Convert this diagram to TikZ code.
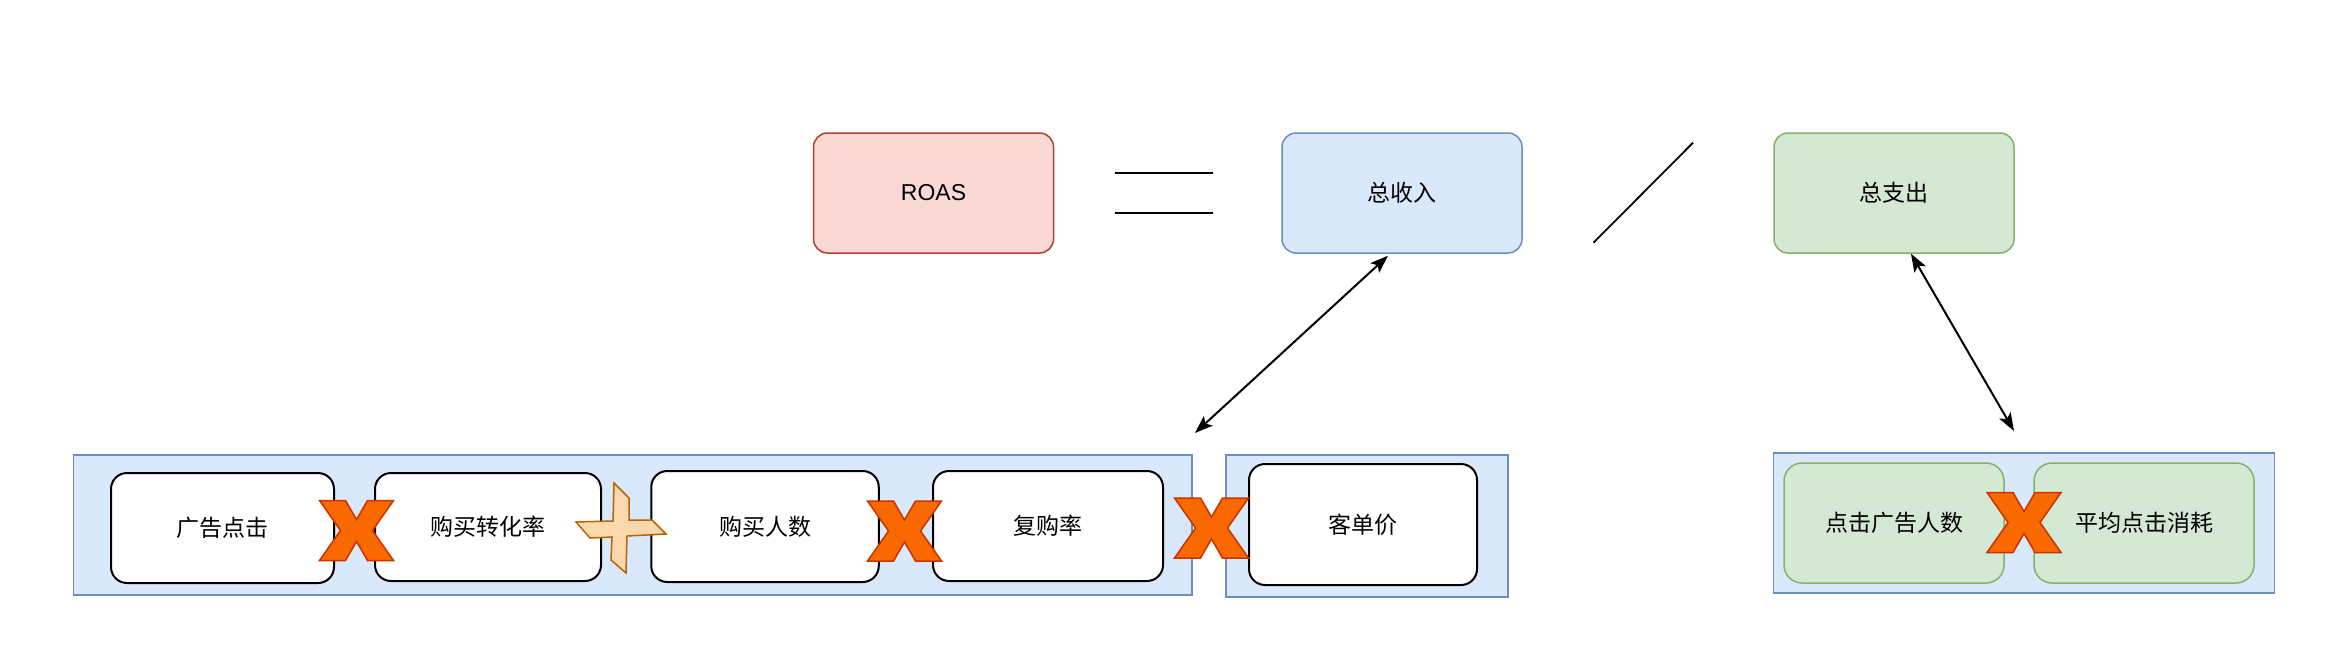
\documentclass[tikz,border=0pt]{standalone}
\usepackage{fontspec}
\setmainfont{Liberation Sans}
\newfontfamily\cjk{Noto Sans CJK SC}
\usetikzlibrary{arrows.meta,calc}
\definecolor{redfill}{HTML}{FAD9D5}
\definecolor{redline}{HTML}{AE4132}
\definecolor{bluefill}{HTML}{DAE8FC}
\definecolor{blueline}{HTML}{6C8EBF}
\definecolor{greenfill}{HTML}{D5E8D4}
\definecolor{greenline}{HTML}{82B366}
\definecolor{xfill}{HTML}{FA6800}
\definecolor{xline}{HTML}{C73500}
\definecolor{pfill}{HTML}{FAD7AC}
\definecolor{pline}{HTML}{B46504}
\tikzset{
  txt/.style={font=\fontsize{23}{28}\selectfont, text=black},
  topbox/.style={txt, rounded corners=14pt, line width=1.5pt, minimum width=240pt, minimum height=120pt, inner sep=0pt},
  container/.style={fill=bluefill, draw=blueline, line width=1.5pt, inner sep=0pt},
  blackbox/.style={txt, rounded corners=16pt, draw=black, fill=white, line width=2pt, inner sep=0pt},
  greenbox/.style={txt, rounded corners=18pt, draw=greenline, fill=greenfill, line width=1.5pt, inner sep=0pt},
  eqline/.style={draw=black, line width=2pt},
  dbl/.style={draw=black, line width=2pt, {Stealth[length=18pt,width=13pt,inset=4pt]}-{Stealth[length=18pt,width=13pt,inset=4pt]}},
  xstyle/.style={fill=xfill, draw=xline, line width=1.5pt, line join=miter},
  xmark/.pic={
    \path[xstyle] (-37,-30) -- (-11,-30) -- (0,-11) -- (11,-30) -- (37,-30) -- (16,0) -- (37,30) -- (11,30) -- (0,11) -- (-11,30) -- (-37,30) -- (-16,0) -- cycle;
  }
}
\begin{document}
\begin{tikzpicture}[x=1pt,y=-1pt]
\useasboundingbox (0,0) rectangle (2349,665);
\fill[white] (0,0) rectangle (2349,665);

% top row
\node[topbox, fill=redfill, draw=redline] (roas) at (933.5,193) {ROAS};
\node[topbox, fill=bluefill, draw=blueline] (income) at (1402,193) {\cjk 总收入};
\node[topbox, fill=greenfill, draw=greenline] (cost) at (1894,193) {\cjk 总支出};

% equal sign and division slash
\draw[eqline] (1115,172.7) -- (1213,172.7);
\draw[eqline] (1115,212.7) -- (1213,212.7);
\draw[draw=black, line width=1.8pt] (1593.5,242.7) -- (1693,142.7);

% containers
\node[container, minimum width=1118.6pt, minimum height=140pt] (c1) at (632.7,525) {};
\node[container, minimum width=282pt, minimum height=142pt] (c2) at (1367,526) {};
\node[container, minimum width=501pt, minimum height=140pt] (c3) at (2024,523) {};

% inner boxes
\node[blackbox, minimum width=223pt, minimum height=110pt] (b1) at (222.5,528) {\cjk 广告点击};
\node[blackbox, minimum width=226pt, minimum height=108pt] (b2) at (488,527) {\cjk 购买转化率};
\node[blackbox, minimum width=227.5pt, minimum height=111pt] (b3) at (765,526.5) {\cjk 购买人数};
\node[blackbox, minimum width=230pt, minimum height=110pt] (b4) at (1048,526) {\cjk 复购率};
\node[blackbox, minimum width=228pt, minimum height=121pt] (b5) at (1363,524.5) {\cjk 客单价};
\node[greenbox, minimum width=220pt, minimum height=120pt] (g1) at (1894,523) {\cjk 点击广告人数};
\node[greenbox, minimum width=220pt, minimum height=120pt] (g2) at (2144,523) {\cjk 平均点击消耗};

% operators
\pic at (356.5,530.5) {xmark};
\pic at (904.5,531) {xmark};
\pic at (1211.5,528) {xmark};
\pic at (2024,522.5) {xmark};
\path[fill=pfill, draw=pline, line width=1.5pt, line join=miter]
  (614,483) -- (629,498) -- (629,520) -- (652,520) -- (666,534) -- (627,536) -- (626,573)
  -- (611,560) -- (612,537) -- (590,538) -- (576,522) -- (613,521) -- cycle;

% connectors
\coordinate (incbot) at ($(income.south)+(-14,2)$);
\coordinate (leftend) at (1195,433);
\coordinate (costbot) at ($(cost.south)+(17,0)$);
\coordinate (rightend) at (2014,431);
\draw[dbl] (leftend) -- (incbot);
\draw[dbl] (costbot) -- (rightend);
\end{tikzpicture}
\end{document}
